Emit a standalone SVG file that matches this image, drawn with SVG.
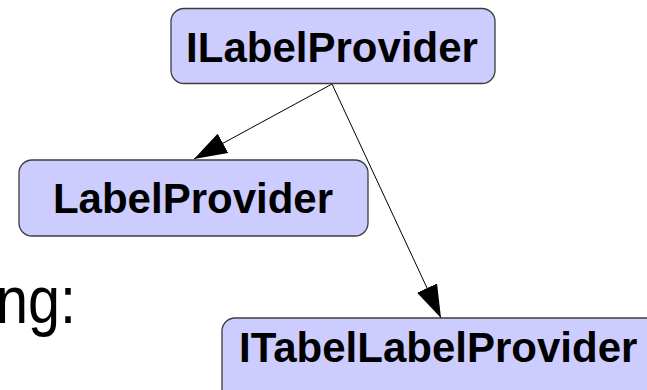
<svg xmlns="http://www.w3.org/2000/svg" width="647" height="390" viewBox="0 0 647 390">
  <style>
    .box { fill: #ccccff; stroke: #3c3c3c; stroke-width: 1.3; }
    .lbl { font-family: "Liberation Sans", Arial, sans-serif; font-weight: bold; font-size: 42px; fill: #000; }
    .edge { stroke: #000; stroke-width: 1; fill: none; marker-end: url(#arrow); }
    .body { font-family: "Liberation Sans", Arial, sans-serif; font-size: 67px; fill: #000; }
  </style>
  <defs>
    <marker id="arrow" viewBox="0 0 33 22" refX="33" refY="11" markerWidth="33" markerHeight="22" markerUnits="userSpaceOnUse" orient="auto">
      <path d="M0,0 L33,11 L0,22 z" fill="#000"/>
    </marker>
  </defs>

  <!-- trailing fragment of slide body text -->
  <text class="body" transform="translate(-4,323) scale(0.86,1)" x="0" y="0">ng:</text>

  <g id="connectors">
    <line class="edge" x1="332" y1="84" x2="194" y2="159"/>
    <line class="edge" x1="332" y1="84" x2="441" y2="318"/>
  </g>

  <g id="ILabelProvider">
    <rect class="box" x="171" y="8.5" width="324" height="75" rx="13"/>
    <text class="lbl" x="332" y="62" text-anchor="middle" font-size="41">ILabelProvider</text>
  </g>

  <g id="LabelProvider">
    <rect class="box" x="19" y="160" width="349" height="76" rx="13"/>
    <text class="lbl" x="193" y="213" text-anchor="middle">LabelProvider</text>
  </g>

  <g id="ITabelLabelProvider">
    <rect class="box" x="222" y="318" width="450" height="90" rx="13"/>
    <text class="lbl" x="239" y="362">ITabelLabelProvider</text>
  </g>
</svg>
